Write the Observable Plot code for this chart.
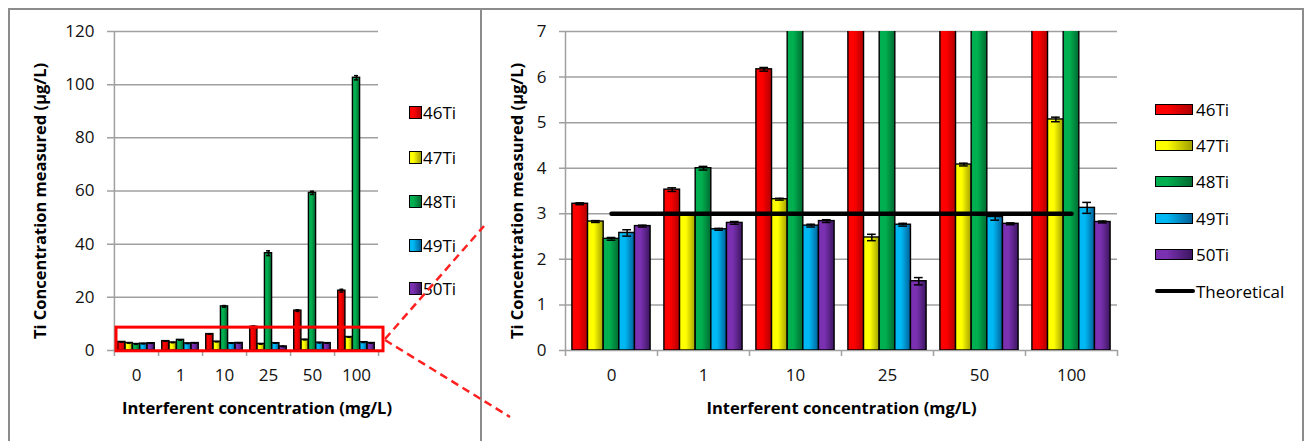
<!DOCTYPE html>
<html>
<head>
<meta charset="utf-8">
<script src="https://cdn.jsdelivr.net/npm/d3@7"></script>
<script src="https://cdn.jsdelivr.net/npm/@observablehq/plot@0.6"></script>
<style>
  body { margin: 0; background: #fff; }
  #wrap { position: relative; width: 1308px; height: 441px; overflow: hidden; background: #fff; font-family: "Open Sans", Lato, sans-serif; }
  .plot { position: absolute; top: 0; }
  .leg { position: absolute; display: flex; align-items: center; height: 24px; font-size: 17px; color: #000; white-space: nowrap; }
  .sw { box-sizing: border-box; border: 1.5px solid #000; }
</style>
</head>
<body>
<svg width="0" height="0" style="position:absolute">
  <defs id="grads"></defs>
</svg>
<div id="wrap">
  <div id="left" class="plot" style="left:0px"></div>
  <div id="right" class="plot" style="left:482px"></div>
  <div id="legLeft"></div>
  <div id="legRight"></div>
  <svg id="overlay" width="1308" height="441" style="position:absolute;left:0;top:0;pointer-events:none"></svg>
</div>
<script>
// ---------- data ----------
const categories = ["0", "1", "10", "25", "50", "100"];
const isotopes = ["46Ti", "47Ti", "48Ti", "49Ti", "50Ti"];
const ti46 = [3.22, 3.53, 6.17, 8.9, 15.0, 22.5];
const ti47 = [2.83, 3.00, 3.32, 2.48, 4.08, 5.07];
const ti48 = [2.45, 4.00, 16.6, 36.6, 59.3, 102.6];
const ti49 = [2.58, 2.66, 2.74, 2.76, 2.93, 3.13];
const ti50 = [2.73, 2.80, 2.84, 1.52, 2.78, 2.82];
const err46 = [0.02, 0.04, 0.04, 0.3, 0.3, 0.5];
const err47 = [0.02, 0.02, 0.02, 0.07, 0.03, 0.05];
const err48 = [0.03, 0.04, 0.3, 0.9, 0.6, 0.8];
const err49 = [0.07, 0.02, 0.03, 0.03, 0.07, 0.12];
const err50 = [0.02, 0.03, 0.03, 0.08, 0.02, 0.02];
const theoretical = [3, 3, 3, 3, 3, 3];
const leftTicks = [0, 20, 40, 60, 80, 100, 120];
const rightTicks = [0, 1, 2, 3, 4, 5, 6, 7];
const yTitle = "Ti Concentration measured (µg/L)";
const xTitle = "Interferent concentration (mg/L)";
const theoLabel = "Theoretical";

// ---------- styles ----------
const lightColors = ["#ff0000", "#ffff00", "#00b050", "#00b8f4", "#7a30b0"];
const darkColors  = ["#b00000", "#a0a000", "#006a30", "#005f98", "#3c1660"];

const series = [ti46, ti47, ti48, ti49, ti50];
const errors = [err46, err47, err48, err49, err50];
const rows = isotopes.map((iso, j) => categories.map((c, i) => ({cat: c, iso, v: series[j][i], e: errors[j][i]})));

// gradients
const defs = d3.select("#grads");
isotopes.forEach((iso, j) => {
  const g = defs.append("linearGradient").attr("id", "g" + j).attr("x1", 0).attr("x2", 1).attr("y1", 0).attr("y2", 0);
  g.append("stop").attr("offset", "0").attr("stop-color", lightColors[j]);
  g.append("stop").attr("offset", "0.4").attr("stop-color", lightColors[j]);
  g.append("stop").attr("offset", "1").attr("stop-color", darkColors[j]);
});

const GRID = "#a0a0a0";
const FONT = "'Open Sans', Lato, sans-serif";

function chart({width, ml, mr, mt = 31, mb = 91, yDomain, yTicks, pad, showLine, annotate, yTitleX, xTitleDx}) {
  const height = 441;
  const innerH = height - mt - mb;
  const B = (width - ml - mr) / categories.length;
  const P = B * pad;
  const w = (B - 2 * P) / isotopes.length;
  const marks = [];
  marks.push(Plot.ruleY(yTicks, {stroke: GRID, strokeWidth: 1.5, insetLeft: -6}));
  marks.push(Plot.ruleX([categories[0]], {x: d => d, dx: -B / 2, stroke: GRID, strokeWidth: 1.5, insetBottom: -6}));
  marks.push(Plot.ruleX(categories, {x: d => d, dx: B / 2, stroke: GRID, strokeWidth: 1.5, insetTop: innerH, insetBottom: -6}));
  rows.forEach((data, j) => {
    const il = P + j * w;
    const ir = B - P - (j + 1) * w;
    marks.push(Plot.barY(data, {x: "cat", y: "v", fill: `url(#g${j})`, stroke: "#000", strokeWidth: 1.4, insetLeft: il, insetRight: ir, clip: true}));
  });
  rows.forEach((data, j) => {
    const il = P + j * w;
    const ir = B - P - (j + 1) * w;
    const cw = w * 0.22;
    const dx = il + w / 2 - B / 2;
    marks.push(Plot.ruleX(data, {x: "cat", y1: d => d.v - d.e, y2: d => d.v + d.e, dx, stroke: "#000", strokeWidth: 1.5, clip: true}));
    marks.push(Plot.tickY(data, {x: "cat", y: d => d.v + d.e, insetLeft: il + cw, insetRight: ir + cw, stroke: "#000", strokeWidth: 1.5, clip: true}));
    marks.push(Plot.tickY(data, {x: "cat", y: d => d.v - d.e, insetLeft: il + cw, insetRight: ir + cw, stroke: "#000", strokeWidth: 1.5, clip: true}));
  });
  if (showLine) {
    marks.push(Plot.lineY(theoretical, {x: (d, i) => categories[i], y: d => d, stroke: "#000", strokeWidth: 4.5, strokeLinecap: "round"}));
  }
  if (annotate) {
    marks.push(Plot.rect([0], {y1: -0.3, y2: 8.6, insetLeft: 3, insetRight: -5, stroke: "#ff0000", strokeWidth: 3, fill: "none"}));
  }
  marks.push(Plot.axisY({ticks: yTicks, tickFormat: d3.format("d"), tickSize: 0, tickPadding: 19, label: null, fontSize: 17, fill: "#111"}));
  marks.push(Plot.axisX({tickSize: 0, tickPadding: 18, label: null, fontSize: 17, fill: "#111"}));
  marks.push(Plot.text([yTitle], {text: d => d, frameAnchor: "left", textAnchor: "middle", lineAnchor: "middle", rotate: -90, dx: -(ml - yTitleX), dy: 10, fontWeight: "bold", fontSize: 16.5, fill: "#000"}));
  marks.push(Plot.text([xTitle], {text: d => d, frameAnchor: "bottom", textAnchor: "middle", lineAnchor: "middle", dy: 58, dx: xTitleDx, fontWeight: "bold", fontSize: 16.5, fill: "#000"}));
  return Plot.plot({
    width, height,
    marginLeft: ml, marginRight: mr, marginTop: mt, marginBottom: mb,
    style: {fontFamily: FONT, fontSize: "17px", background: "transparent", color: "#000", overflow: "visible"},
    x: {type: "band", domain: categories, padding: 0, axis: null},
    y: {domain: yDomain, axis: null},
    marks
  });
}

document.getElementById("left").append(chart({
  width: 480, ml: 113, mr: 102, yDomain: [0, 120], yTicks: leftTicks, pad: 0.085,
  showLine: false, annotate: true, yTitleX: 40, xTitleDx: 11
}));
document.getElementById("right").append(chart({
  width: 826, ml: 83, mr: 191, yDomain: [0, 7], yTicks: rightTicks, pad: 0.075,
  showLine: true, annotate: false, yTitleX: 35, xTitleDx: 0
}));

// ---------- legends ----------
function grad(j) { return `linear-gradient(to right, ${lightColors[j]} 0%, ${lightColors[j]} 30%, ${darkColors[j]} 100%)`; }
const legL = document.getElementById("legLeft");
const leftRowsY = [112, 157, 201, 245, 288];
isotopes.forEach((iso, j) => {
  const d = document.createElement("div");
  d.className = "leg";
  d.style.left = "409px"; d.style.top = (leftRowsY[j] - 12) + "px";
  d.innerHTML = `<div class="sw" style="width:13px;height:13px;background:${grad(j)};margin-right:1px"></div><span>${iso}</span>`;
  legL.append(d);
});
const legR = document.getElementById("legRight");
const rightRowsY = [109, 145, 181, 218, 254, 291];
isotopes.forEach((iso, j) => {
  const d = document.createElement("div");
  d.className = "leg";
  d.style.left = "1155px"; d.style.top = (rightRowsY[j] - 12) + "px";
  d.innerHTML = `<div class="sw" style="width:38px;height:11px;background:${grad(j)};margin-right:3px"></div><span>${iso}</span>`;
  legR.append(d);
});
{
  const d = document.createElement("div");
  d.className = "leg";
  d.style.left = "1155px"; d.style.top = (rightRowsY[5] - 12) + "px";
  d.innerHTML = `<div style="width:40px;height:4.5px;background:#000;border-radius:3px;margin-right:1px"></div><span>${theoLabel}</span>`;
  legR.append(d);
}

// ---------- frame & connector decoration ----------
const ov = d3.select("#overlay");
ov.append("path").attr("d", "M9,441 V9 H1303 V441").attr("fill", "none").attr("stroke", "#8c8c8c").attr("stroke-width", 2);
ov.append("line").attr("x1", 481).attr("x2", 481).attr("y1", 9).attr("y2", 441).attr("stroke", "#8c8c8c").attr("stroke-width", 2);
ov.append("line").attr("x1", 385).attr("y1", 339).attr("x2", 484).attr("y2", 226).attr("stroke", "#ff2020").attr("stroke-width", 2.5).attr("stroke-dasharray", "8,5");
ov.append("line").attr("x1", 385).attr("y1", 340).attr("x2", 510).attr("y2", 417).attr("stroke", "#ff2020").attr("stroke-width", 2.5).attr("stroke-dasharray", "8,5");
</script>
</body>
</html>
